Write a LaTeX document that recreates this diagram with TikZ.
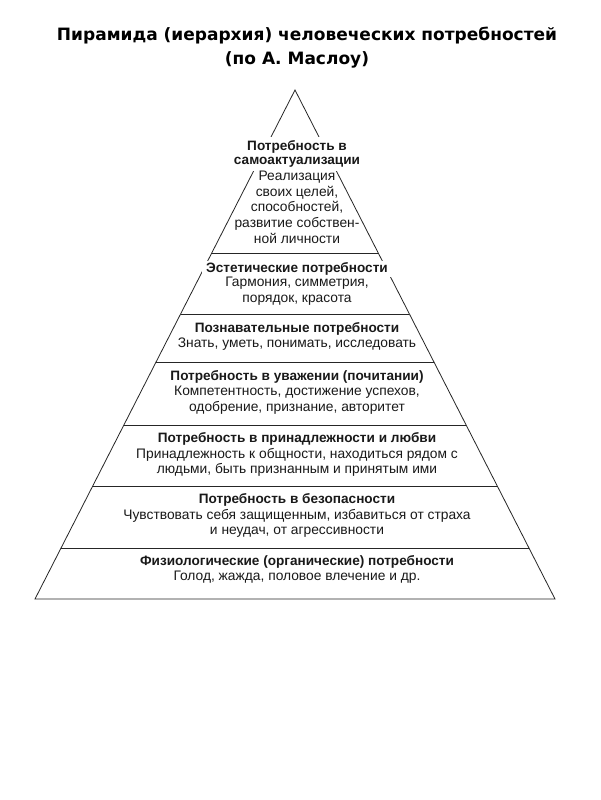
\documentclass[tikz,border=0pt]{standalone}
\usepackage{fontspec}
\setmainfont{Liberation Sans}
\newfontfamily\titlefont{DejaVu Sans}
\usetikzlibrary{calc}
\begin{document}
\begin{tikzpicture}[x=1pt,y=-1pt,
  edge/.style={line width=0.8pt, black!85},
  lvl/.style={align=center, font=\fontsize{13.8}{15.6}\selectfont, inner sep=1pt, text=black!90},
  hd/.style={lvl, font=\bfseries\fontsize{13.6}{15.6}\selectfont},
  ttl/.style={font=\titlefont\bfseries\fontsize{17}{24}\selectfont, align=center, inner sep=0pt}]
\useasboundingbox[fill=white] (0,0) rectangle (600,800);
\coordinate (A) at (295,90);
\coordinate (L) at (35,599);
\coordinate (R) at (555,599);
\draw[edge] (A) -- (L) -- (R) -- cycle;
\foreach \y [count=\i] in {253,314,362,425,486,548} {
  \coordinate (l\i) at ($(A)!{(\y-90)/509}!(L)$);
  \coordinate (r\i) at ($(A)!{(\y-90)/509}!(R)$);
  \draw[edge] (l\i) -- (r\i);
}
% title
\node[ttl] (t1) at (307,36) {Пирамида (иерархия) человеческих потребностей};
\node[ttl] (t2) at (297,60) {(по А. Маслоу)};
% level 1
\node[hd, fill=white, inner sep=3pt, font=\bfseries\fontsize{13.6}{14.5}\selectfont] (h1) at (297,154) {Потребность в\\самоактуализации};
\node[lvl, anchor=north] (b1) at (297,170) {Реализация\\своих целей,\\способностей,\\развитие собствен-\\ной личности};
% level 2
\node[hd, fill=white, inner xsep=4pt, inner ysep=2pt] (h2) at (297,269) {Эстетические потребности};
\node[lvl, anchor=north] (b2) at (297,276) {Гармония, симметрия,\\порядок, красота};
% level 3
\node[hd] (h3) at (297,329) {Познавательные потребности};
\node[lvl, anchor=north] (b3) at (297,337) {Знать, уметь, понимать, исследовать};
% level 4
\node[hd] (h4) at (297,377) {Потребность в уважении (почитании)};
\node[lvl, anchor=north] (b4) at (297,385) {Компетентность, достижение успехов,\\одобрение, признание, авторитет};
% level 5
\node[hd] (h5) at (297,439) {Потребность в принадлежности и любви};
\node[lvl, anchor=north] (b5) at (297,447) {Принадлежность к общности, находиться рядом с\\людьми, быть признанным и принятым ими};
% level 6
\node[hd] (h6) at (297,500) {Потребность в безопасности};
\node[lvl, anchor=north] (b6) at (297,508) {Чувствовать себя защищенным, избавиться от страха\\и неудач, от агрессивности};
% level 7
\node[hd] (h7) at (297,562) {Физиологические (органические) потребности};
\node[lvl, anchor=north] (b7) at (297,570) {Голод, жажда, половое влечение и др.};
\end{tikzpicture}
\end{document}
